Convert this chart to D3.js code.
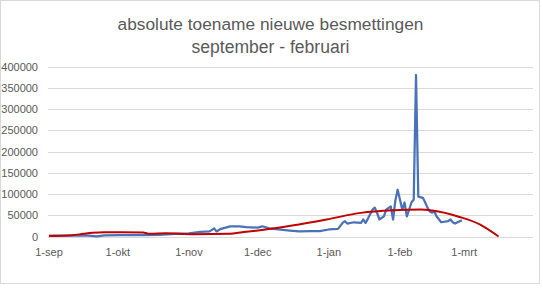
<!DOCTYPE html>
<html>
<head>
<meta charset="utf-8">
<script src="https://cdn.jsdelivr.net/npm/d3@7"></script>
<style>
  body { margin: 0; background: #fff; }
  text { font-family: "Liberation Sans", Arial, sans-serif; fill: #595959; }
</style>
</head>
<body>
<div id="chart"></div>
<script>
// daily new infections (blue)
const blueDates = ["2020-09-01","2020-09-10","2020-09-17","2020-09-22","2020-09-25","2020-10-02","2020-10-12","2020-10-19",
  "2020-10-26","2020-11-01","2020-11-06","2020-11-10","2020-11-12","2020-11-13","2020-11-15","2020-11-19","2020-11-23",
  "2020-11-26","2020-12-01","2020-12-03","2020-12-06","2020-12-11","2020-12-15","2020-12-19","2020-12-24","2020-12-28",
  "2021-01-01","2021-01-05","2021-01-07","2021-01-08","2021-01-09","2021-01-12","2021-01-15","2021-01-16","2021-01-17",
  "2021-01-18","2021-01-20","2021-01-21","2021-01-22","2021-01-23","2021-01-25","2021-01-26","2021-01-28","2021-01-29",
  "2021-01-30","2021-01-31","2021-02-01","2021-02-02","2021-02-03","2021-02-04","2021-02-05","2021-02-06","2021-02-07",
  "2021-02-08","2021-02-09","2021-02-11","2021-02-12","2021-02-13","2021-02-14","2021-02-15","2021-02-16","2021-02-17",
  "2021-02-19","2021-02-22","2021-02-23","2021-02-24","2021-02-25","2021-02-27","2021-02-28"];
const blueValues = [2300,2300,2500,500,2500,3000,3000,4000,
  6000,7500,11000,12000,19000,12000,18000,24000,24000,
  22000,21000,24000,19000,16000,14000,12000,12500,12500,
  16500,18000,32000,36000,30500,33500,32000,40000,32000,
  41500,63000,68000,56000,40000,47500,63000,71000,40000,
  85000,110000,87000,63000,80000,47500,63000,80000,87000,
  380000,94000,91000,80000,68000,58700,56000,58700,47000,
  33500,36000,40000,33500,30500,36000,38000];

// trend line (red)
const redDates = ["2020-09-01","2020-09-11","2020-09-16","2020-09-20","2020-09-25","2020-10-03","2020-10-12","2020-10-15",
  "2020-10-22","2020-11-03","2020-11-18","2020-11-26","2020-12-02","2020-12-16","2020-12-31","2021-01-15","2021-01-29",
  "2021-02-10","2021-02-15","2021-02-27","2021-03-08","2021-03-16"];
const redValues = [1200,3000,6300,8700,10000,10000,9400,6300,
  7700,5400,6300,11000,14800,25800,40000,55600,61700,
  63400,61000,46000,28000,0];

const monthTicks = ["2020-09-01","2020-10-01","2020-11-01","2020-12-01","2021-01-01","2021-02-01","2021-03-01"];
const monthLabels = ["1-sep","1-okt","1-nov","1-dec","1-jan","1-feb","1-mrt"];
const yTicks = [0,50000,100000,150000,200000,250000,300000,350000,400000];
const titleLines = ["absolute toename nieuwe besmettingen", "september - februari"];

const width = 543, height = 288;
const parse = d3.timeParse("%Y-%m-%d");

const svg = d3.select("#chart").append("svg")
    .attr("width", width)
    .attr("height", height);

// chart border
svg.append("rect")
    .attr("x", 0.5).attr("y", 0.5)
    .attr("width", 539).attr("height", 283)
    .attr("fill", "#fff")
    .attr("stroke", "#d9d9d9");

const x = d3.scaleTime()
    .domain([parse("2020-09-01"), parse("2021-03-31")])
    .range([49, 533]);
const y = d3.scaleLinear()
    .domain([0, 400000])
    .range([236.5, 66.5]);

// gridlines
svg.append("g")
    .selectAll("line")
    .data(yTicks)
    .join("line")
    .attr("x1", x.range()[0] - 1)
    .attr("x2", x.range()[1])
    .attr("y1", d => Math.round(y(d)) + 0.5)
    .attr("y2", d => Math.round(y(d)) + 0.5)
    .attr("stroke", "#d9d9d9")
    .attr("stroke-width", 1);

// y labels
svg.append("g")
    .selectAll("text")
    .data(yTicks)
    .join("text")
    .attr("x", 38)
    .attr("y", d => y(d) + 4)
    .attr("text-anchor", "end")
    .style("font-size", "11px")
    .text(d => d);

// x labels
svg.append("g")
    .selectAll("text")
    .data(monthTicks)
    .join("text")
    .attr("x", d => x(parse(d)))
    .attr("y", 256)
    .attr("text-anchor", "middle")
    .style("font-size", "11px")
    .text((d, i) => monthLabels[i]);

// title, fitted to the width of the original
const titleWidths = [306, 158];
const titleY = [29.5, 53];
titleLines.forEach((t, i) => {
    const el = svg.append("text")
        .attr("x", 270.5)
        .attr("y", titleY[i])
        .attr("text-anchor", "middle")
        .style("font-size", "17px")
        .text(t);
    const w = el.node().getComputedTextLength();
    el.style("font-size", (17 * titleWidths[i] / w).toFixed(2) + "px");
});

const blueData = blueDates.map((d, i) => ({ date: parse(d), value: blueValues[i] }));
const redData = redDates.map((d, i) => ({ date: parse(d), value: redValues[i] }));

const line = d3.line()
    .x(d => x(d.date))
    .y(d => y(d.value));

svg.append("path")
    .datum(blueData)
    .attr("d", line)
    .attr("fill", "none")
    .attr("stroke", "#4a72b8")
    .attr("stroke-width", 2.25)
    .attr("stroke-linejoin", "round");

svg.append("path")
    .datum(redData)
    .attr("d", line.curve(d3.curveMonotoneX))
    .attr("fill", "none")
    .attr("stroke", "#c00000")
    .attr("stroke-width", 2);
</script>
</body>
</html>
